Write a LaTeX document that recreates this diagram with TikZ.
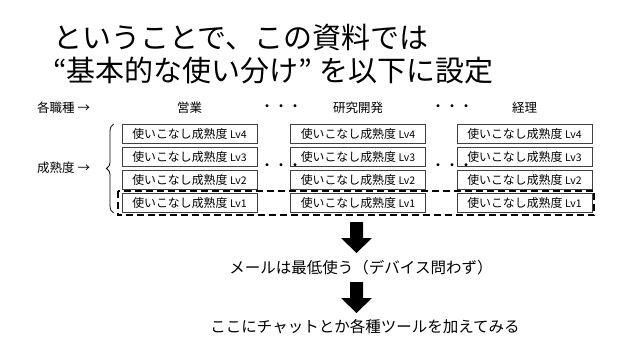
\documentclass[tikz,border=0pt]{standalone}
\usepackage{fontspec}
\setmainfont{Noto Sans CJK JP}
\usetikzlibrary{decorations.pathreplacing}
\newcommand\lvtext[1]{使いこなし成熟度 {\fontsize{10.5}{12}\selectfont Lv#1}}
\begin{document}
\begin{tikzpicture}[x=1pt,y=-1pt,
  lvbox/.style={draw=black!75, line width=0.9pt, minimum width=135pt, minimum height=19pt, inner sep=0pt, font=\fontsize{11.9}{13}\selectfont},
  hdr/.style={font=\fontsize{12.5}{14}\selectfont, inner sep=0pt},
  dotrow/.style={font=\fontsize{14}{14}\selectfont, inner sep=0pt},
  big/.style={font=\fontsize{29}{32}\selectfont, inner sep=0pt, anchor=west},
  mid/.style={font=\fontsize{15.5}{17}\selectfont, inner sep=0pt},
  dashline/.style={dash pattern=on 7pt off 4pt, line width=2pt},
  blockarrow/.style={fill=black}
]
\useasboundingbox[fill=white] (0,0) rectangle (638,359);
% title
\node[big] (t1) at (53,38) {ということで、この資料では};
\node[big] (t2) at (53,70) {“基本的な使い分け” を以下に設定};
% headers
\node[hdr, anchor=west] (h0) at (37,108) {各職種 →};
\node[hdr] (h1) at (189.5,108) {営業};
\node[dotrow] (d1) at (281,108) {・・・};
\node[hdr] (h2) at (358,108) {研究開発};
\node[dotrow] (d2) at (452,108) {・・・};
\node[hdr] (h3) at (524.5,108) {経理};
\node[hdr, anchor=west] (s0) at (37,168) {成熟度 →};
% boxes
\foreach \c/\x in {a/189.5, b/358, c/524.5}{
  \foreach \r/\y in {4/134, 3/157, 2/180, 1/203}{
    \node[lvbox] (\c\r) at (\x,\y) {\lvtext{\r}};
  }
}
\node[dotrow] (d3) at (281,167) {・・・};
\node[dotrow] (d4) at (452,167) {・・・};
% brace
\draw[decorate, decoration={brace, amplitude=7pt}, line width=0.8pt]
  ([xshift=-8pt]a1.south west) -- ([xshift=-8pt]a4.north west);
% dashed box
\draw[dashline] ([shift={(-4,-2.5)}]a1.north west) rectangle ([shift={(2,2.5)}]c1.south east);
% messages
\node[mid] (m1) at (361,268) {メールは最低使う（デバイス問わず）};
\node[mid] (m2) at (365,327) {ここにチャットとか各種ツールを加えてみる};
% block arrows
\fill[blockarrow] (350,222) -- (363,222) -- (363,238) -- (372,238) -- (356.5,253) -- (341,238) -- (350,238) -- cycle;
\fill[blockarrow] (350,282) -- (363,282) -- (363,298) -- (372,298) -- (356.5,313) -- (341,298) -- (350,298) -- cycle;
\end{tikzpicture}
\end{document}
